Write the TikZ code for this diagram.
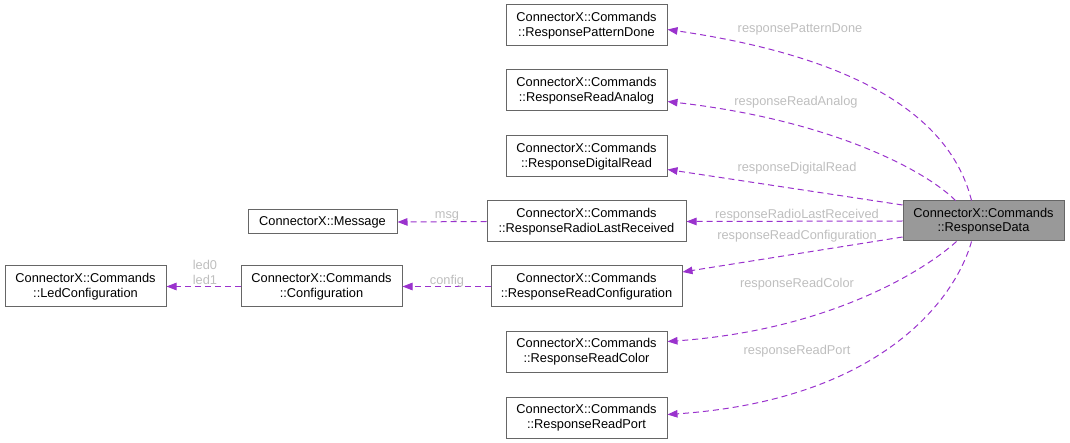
\documentclass[tikz,border=0pt]{standalone}
\usepackage{fontspec}
\setmainfont{Liberation Sans}
\usetikzlibrary{arrows.meta}
\definecolor{edgec}{HTML}{9A32CD}
\definecolor{boxb}{HTML}{666666}
\definecolor{lbl}{HTML}{BEBEBE}
\definecolor{rdfill}{HTML}{999999}
\begin{document}
\begin{tikzpicture}[x=1pt,y=-1pt,
  box/.style={draw=boxb, line width=1pt, fill=white, align=center, inner sep=0pt,
    minimum width=161pt, minimum height=41pt, font=\fontsize{12.8}{14.5}\selectfont},
  edge/.style={draw=edgec, line width=1pt, dash pattern=on 6pt off 4pt,
    -{Triangle[length=10pt,width=7.5pt,fill=edgec]}},
  lab/.style={text=lbl, inner sep=0pt, align=center, font=\fontsize{12.8}{14.5}\selectfont}]
\useasboundingbox (0,0) rectangle (1070,443);

\node[box] (pd) at (586.5,25.5) {ConnectorX::Commands\\::ResponsePatternDone};
\node[box] (ra) at (586.5,90.5) {ConnectorX::Commands\\::ResponseReadAnalog};
\node[box] (dr) at (586.5,156.5) {ConnectorX::Commands\\::ResponseDigitalRead};
\node[box, minimum width=199pt] (rl) at (586.5,221.5) {ConnectorX::Commands\\::ResponseRadioLastReceived};
\node[box, minimum width=191pt] (rc) at (586.5,286.5) {ConnectorX::Commands\\::ResponseReadConfiguration};
\node[box] (col) at (586.5,351.5) {ConnectorX::Commands\\::ResponseReadColor};
\node[box] (rp) at (586.5,417.5) {ConnectorX::Commands\\::ResponseReadPort};
\node[box, minimum width=149pt, minimum height=24pt] (msg) at (322.5,222) {ConnectorX::Message};
\node[box] (cfg) at (321.5,286.5) {ConnectorX::Commands\\::Configuration};
\node[box] (led) at (85.5,286.5) {ConnectorX::Commands\\::LedConfiguration};
\node[box, fill=rdfill, minimum height=40pt] (rd) at (983.5,221) {ConnectorX::Commands\\::ResponseData};

\draw[edge] ([xshift=-12pt]rd.north) .. controls (955,135) and (890,62) .. ([yshift=-4pt]pd.east);
\draw[edge] ([xshift=-28pt]rd.north) .. controls (925,170) and (830,120) .. ([yshift=-11pt]ra.east);
\draw[edge] ([yshift=16pt]rd.west) -- ([yshift=-13pt]dr.east);
\draw[edge] (rd.west) -- (rl.east);
\draw[edge] ([yshift=-16pt]rd.west) -- ([yshift=14.5pt]rc.east);
\draw[edge] ([xshift=-27pt]rd.south) .. controls (925,270) and (830,330) .. ([yshift=10pt]col.east);
\draw[edge] ([xshift=-12pt]rd.south) .. controls (955,300) and (880,400) .. ([yshift=3pt]rp.east);
\draw[edge] (rl.west) -- (msg.east);
\draw[edge] (rc.west) -- (cfg.east);
\draw[edge] (cfg.west) -- (led.east);

\node[lab] (l1) at (800,29) {responsePatternDone};
\node[lab] (l2) at (796,102) {responseReadAnalog};
\node[lab] (l3) at (797,168) {responseDigitalRead};
\node[lab] (l4) at (797,215) {responseRadioLastReceived};
\node[lab] (l5) at (797,236) {responseReadConfiguration};
\node[lab] (l6) at (797,284) {responseReadColor};
\node[lab] (l7) at (797,351) {responseReadPort};
\node[lab] (l8) at (447,216) {msg};
\node[lab] (l9) at (447,281) {config};
\node[lab] (l10) at (205,272.5) {led0\\led1};
\end{tikzpicture}
\end{document}
